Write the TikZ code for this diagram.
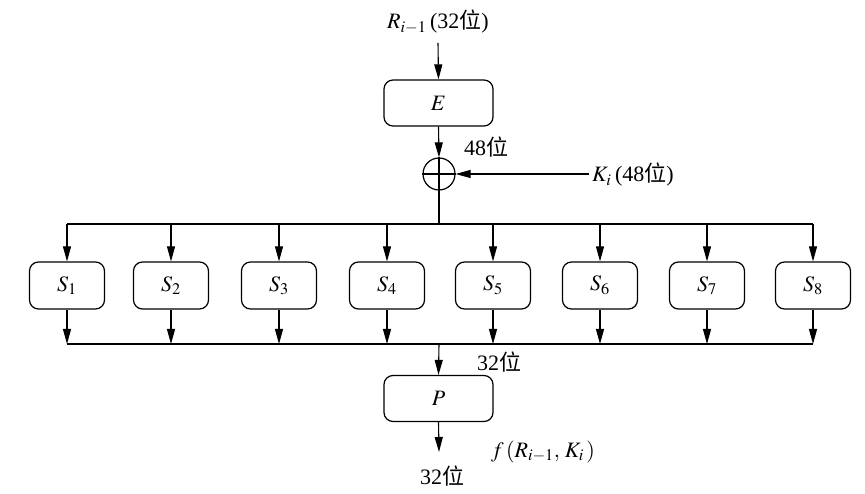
\documentclass[tikz,border=0pt]{standalone}
\usepackage{mathptmx}
\usepackage{fontspec}
\setmainfont{Liberation Serif}
\newfontfamily\cjk{Noto Sans CJK SC}
\usetikzlibrary{arrows.meta}
\begin{document}
\begin{tikzpicture}[x=1pt,y=-1pt,
 fnt/.style={font=\fontsize{22}{26}\selectfont},
 box/.style={draw, fnt, rounded corners=9pt, minimum width=109pt, minimum height=46pt, inner sep=0pt, line width=1.2pt},
 sbox/.style={draw, fnt, rounded corners=9pt, minimum width=75pt, minimum height=47pt, inner sep=0pt, line width=1.2pt},
 xor/.style={draw, circle, minimum size=32pt, inner sep=0pt, line width=1.2pt},
 arr/.style={-{Stealth[length=15pt,width=8pt,inset=0pt]}, line width=1.1pt},
 ln/.style={line width=1.1pt},
 lbl/.style={fnt, inner sep=0pt}
]
\useasboundingbox[fill=white] (0,0) rectangle (865,494);
\node[lbl] (rin) at (438,22) {$R_{i-1}$\,(32{\cjk 位})};
\node[box] (E) at (438.5,103) {$E$};
\node[xor] (X) at (439,174) {};
\draw[ln] (X.north) -- (X.south) (X.west) -- (X.east);
\node[lbl,anchor=west] (k) at (592,175) {$K_i$\,(48{\cjk 位})};
\node[lbl] (b48) at (486,147) {48{\cjk 位}};
\draw[arr] (rin.south) ++(0,9) -- (E.north);
\draw[arr] (E.south) -- (X.north);
\draw[arr] (X.east -| k.west) ++(-3,0) -- (X.east);
\coordinate (top) at (439,224);
\coordinate (bot) at (439,344);
\foreach \i/\x in {1/67,2/171,3/279,4/387,5/493,6/600,7/707,8/813}{
  \node[sbox] (S\i) at (\x,285.5) {$S_{\i}$};
  \draw[arr] (S\i |- top) -- (S\i.north);
  \draw[arr] (S\i.south) -- (S\i |- bot);
}
\draw[ln] (X.south) -- (top);
\draw[ln] (S1 |- top) -- (S8 |- top);
\draw[ln] (S1 |- bot) -- (S8 |- bot);
\node[box] (P) at (438.5,398.5) {$P$};
\draw[arr] (bot) -- (P.north);
\node[lbl] (b32) at (499,362) {32{\cjk 位}};
\coordinate (out) at (439,452);
\draw[arr] (P.south) -- (out);
\node[lbl] (o32) at (442,476) {32{\cjk 位}};
\node[lbl] (f) at (543,452) {$f\,(R_{i-1},\,K_i\,)$};
\end{tikzpicture}
\end{document}
